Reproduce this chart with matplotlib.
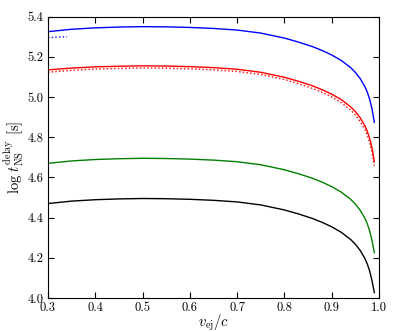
import numpy as np
import matplotlib.pyplot as plt

plt.rcParams['font.family'] = 'serif'
plt.rcParams['font.serif'] = ['cmr10', 'DejaVu Serif']
plt.rcParams['mathtext.fontset'] = 'cm'
plt.rcParams['axes.formatter.use_mathtext'] = True

# ejecta velocity grid (v_ej / c)
v = [0.30, 0.35, 0.40, 0.45, 0.50, 0.55, 0.60, 0.65, 0.70, 0.75, 0.80, 0.83,
     0.86, 0.88, 0.90, 0.92, 0.94, 0.95, 0.96, 0.97, 0.975, 0.98, 0.985, 0.99]

# log t_NS^delay [s]
blue = [5.325, 5.337, 5.344, 5.348, 5.350, 5.349, 5.346, 5.341, 5.333, 5.318, 5.293, 5.273,
        5.250, 5.231, 5.209, 5.182, 5.146, 5.122, 5.092, 5.052, 5.025, 4.990, 4.942, 4.874]
red = [5.135, 5.144, 5.150, 5.153, 5.155, 5.154, 5.151, 5.146, 5.138, 5.123, 5.098, 5.078,
       5.055, 5.036, 5.014, 4.987, 4.951, 4.927, 4.897, 4.857, 4.830, 4.795, 4.747, 4.679]
red_dot = [5.123, 5.133, 5.139, 5.142, 5.144, 5.143, 5.140, 5.135, 5.127, 5.112, 5.087, 5.066,
           5.042, 5.023, 5.000, 4.972, 4.935, 4.910, 4.879, 4.838, 4.810, 4.775, 4.726, 4.657]
green = [4.670, 4.682, 4.689, 4.693, 4.695, 4.694, 4.691, 4.686, 4.678, 4.663, 4.638, 4.618,
         4.595, 4.576, 4.554, 4.527, 4.491, 4.467, 4.437, 4.397, 4.370, 4.335, 4.287, 4.226]
black = [4.470, 4.482, 4.489, 4.493, 4.495, 4.494, 4.491, 4.486, 4.478, 4.463, 4.438, 4.418,
         4.395, 4.376, 4.354, 4.327, 4.291, 4.267, 4.237, 4.197, 4.170, 4.135, 4.087, 4.027]

# short blue dotted piece at low velocity
v_bdot = [0.30, 0.32, 0.34]
blue_dot = [5.295, 5.298, 5.300]

fig = plt.figure(figsize=(3.99, 3.32), dpi=100)
ax = fig.add_axes([0.1203, 0.1024, 0.8297, 0.8476])

ax.plot(v, blue, color='blue', lw=1)
ax.plot(v_bdot, blue_dot, color='blue', lw=1, ls=':')
ax.plot(v, red, color='red', lw=1)
ax.plot(v, red_dot, color='red', lw=1, ls=':')
ax.plot(v, green, color='green', lw=1)
ax.plot(v, black, color='black', lw=1)

ax.set_xlim(0.3, 1.0)
ax.set_ylim(4.0, 5.4)
ax.set_xticks(np.arange(0.3, 1.01, 0.1))
ax.set_yticks(np.arange(4.0, 5.41, 0.2))
ax.xaxis.set_major_formatter(plt.FormatStrFormatter('%.1f'))
ax.yaxis.set_major_formatter(plt.FormatStrFormatter('%.1f'))
ax.tick_params(direction='in', top=True, right=True, length=4, labelsize=9, pad=3)

ax.set_xlabel(r'$v_{\rm ej}/c$', fontsize=10.5, labelpad=-1)
ax.set_ylabel(r'$\log\, t_{\rm NS}^{\rm delay}$ [s]', fontsize=10.5, labelpad=2)

fig.savefig('out.png', dpi=100)
